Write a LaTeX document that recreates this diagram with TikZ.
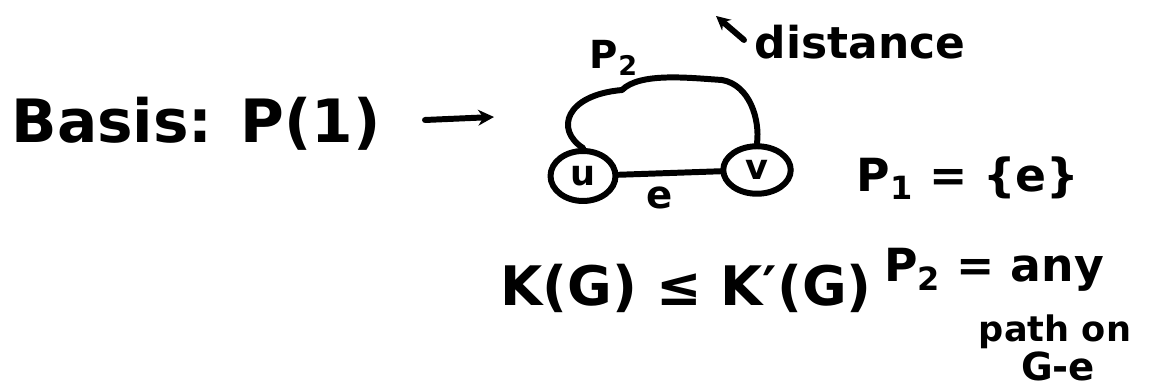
\documentclass[tikz,border=0pt]{standalone}
\usepackage{fontspec}
\setmainfont{DejaVu Sans}
\usetikzlibrary{arrows.meta,shapes.geometric}
\begin{document}
\begin{tikzpicture}[x=0.02cm,y=-0.02cm,
  ink/.style={line width=3.4pt,line cap=round,line join=round},
  hand/.style={inner sep=0pt,font=\bfseries#1},
  vtx/.style={draw,ellipse,line width=3.4pt,inner sep=0pt,font=\bfseries\fontsize{20}{22}\selectfont}]
\useasboundingbox (0,0) rectangle (1149,391);
% title
\node[hand=\fontsize{34}{36}\selectfont] (basis) at (196,124) {Basis: P(1)};
\coordinate (a1) at (425,120);
\coordinate (a2) at (494,117);
\draw[ink,-{Stealth[length=9pt,width=9pt]}] (a1) -- (a2);
% vertices
\node[vtx,minimum width=1.3cm,minimum height=1.0cm] (u) at (583,176) {u};
\node[vtx,minimum width=1.35cm,minimum height=0.95cm] (v) at (757,170) {v};
\draw[ink] (u) -- (v);
\node[hand=\fontsize{22}{24}\selectfont] (e) at (660,198) {e};
% path P2
\draw[ink] (u.north) .. controls (555,130) and (565,95) .. (622,90)
  .. controls (640,72) and (690,78) .. (722,80)
  .. controls (750,85) and (760,120) .. (v.north);
\node[hand=\fontsize{22}{24}\selectfont] (p2) at (614,58) {P\textsubscript{2}};
% distance
\coordinate (d1) at (744,40);
\coordinate (d2) at (716,16);
\draw[ink,-{Stealth[length=8pt,width=8pt]}] (d1) -- (d2);
\node[hand=\fontsize{25}{27}\selectfont] (dist) at (860,42) {distance};
% right side
\node[hand=\fontsize{26}{28}\selectfont] (p1) at (968,178) {P\textsubscript{1} = \{e\}};
\node[hand=\fontsize{31}{33}\selectfont] (kg) at (686,288) {K(G) ≤ K′(G)};
\node[hand=\fontsize{26}{28}\selectfont] (p2any) at (994,270) {P\textsubscript{2} = any};
\node[hand=\fontsize{20}{22}\selectfont] (path) at (1055,332) {path on};
\node[hand=\fontsize{22}{24}\selectfont] (ge) at (1058,366) {G-e};
\end{tikzpicture}
\end{document}
